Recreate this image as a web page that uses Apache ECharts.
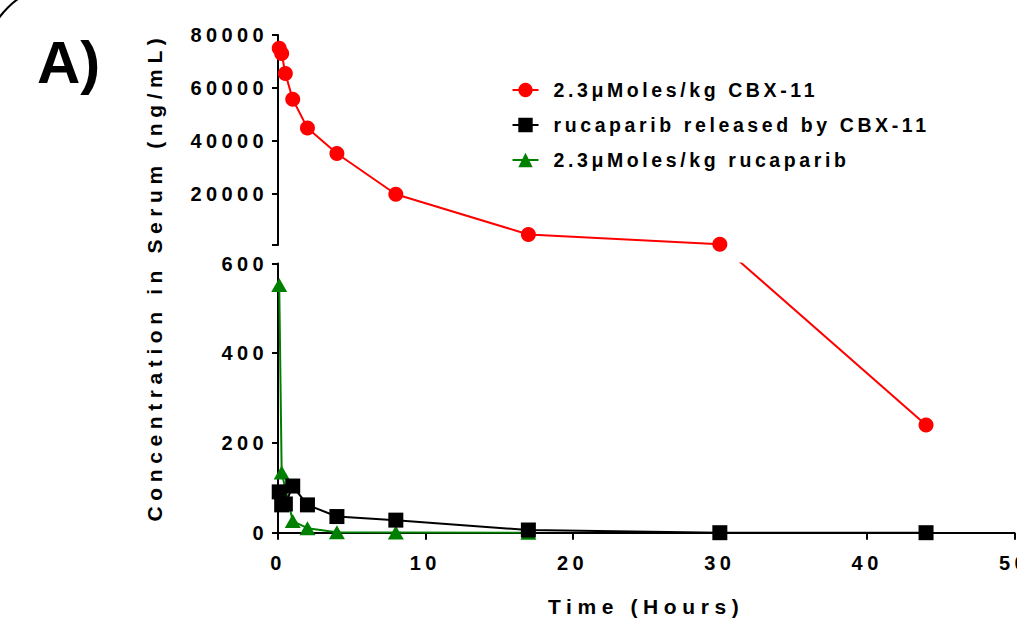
<!DOCTYPE html>
<html><head><meta charset="utf-8">
<script src="https://cdn.jsdelivr.net/npm/echarts@6/dist/echarts.min.js"></script>
<style>
html,body{margin:0;padding:0;background:#fff;}
#chart{width:1017px;height:625px;}
#chart text[style*="20px"]{letter-spacing:4.4px;}
#chart text[style*="19.5px"]{letter-spacing:3.6px;}
#chart text[style*="21px"]{letter-spacing:5.6px;}
</style></head><body><div id="chart"></div>
<script>
// ---- data ----
const panelLabel = 'A)';
const xTitle = 'Time (Hours)';
const yTitle = 'Concentration in Serum (ng/mL)';
const seriesNames = ['2.3μMoles/kg CBX-11', 'rucaparib released by CBX-11', '2.3μMoles/kg rucaparib'];
const cbxTimes = [0.083, 0.25, 0.5, 1, 2, 4, 8, 17, 30, 44];
const cbxValues = [75000, 73000, 65400, 55700, 44800, 35200, 19800, 4600, 900, 240];
const releasedTimes = [0.083, 0.25, 0.5, 1, 2, 4, 8, 17, 30, 44];
const releasedValues = [91, 62, 64, 104, 62, 36, 28, 6, 0, 0];
const rucTimes = [0.083, 0.25, 1, 2, 4, 8, 17];
const rucValues = [552, 134, 26, 10, 1, 0.5, 0];
const xTicks = [0, 10, 20, 30, 40, 50];
const upperTicks = [20000, 40000, 60000, 80000];
const lowerTicks = [0, 200, 400, 600];
const breakValue = 600; // lower segment top = upper segment bottom

// ---- chart ----
const FONT = 'Liberation Sans';
const chart = echarts.init(document.getElementById('chart'), null, {renderer: 'svg'});
const pairs = (t, v) => t.map((x, i) => [x, v[i]]);
const cbxAll = pairs(cbxTimes, cbxValues);
const cbxUpper = cbxAll.filter(p => p[1] > breakValue);
const cbxLower = cbxAll.filter(p => p[1] <= breakValue);

const axisLine = {show: true, onZero: false, lineStyle: {color: '#000', width: 2}};
const tickStyle = {show: true, inside: false, length: 6, lineStyle: {color: '#000', width: 2}};
const tickLabel = {color: '#000', fontFamily: FONT, fontWeight: 'bold', fontSize: 20, formatter: v => String(v)};
const red = '#ff0000', green = '#008000', black = '#000000';

const option = {
  animation: false,
  backgroundColor: '#fff',
  textStyle: {fontFamily: FONT},
  grid: [
    {left: 278, top: 35, width: 736.4, height: 210, outerBoundsMode: 'none', containLabel: false},
    {left: 278, top: 263.5, width: 736.4, height: 269.2, outerBoundsMode: 'none', containLabel: false}
  ],
  xAxis: [
    {gridIndex: 0, type: 'value', min: xTicks[0], max: xTicks[xTicks.length - 1], show: false},
    {gridIndex: 1, type: 'value', min: xTicks[0], max: xTicks[xTicks.length - 1],
     interval: xTicks[1] - xTicks[0],
     axisLine: axisLine, axisTick: Object.assign({}, tickStyle, {length: 7}),
     axisLabel: Object.assign({margin: 20}, tickLabel),
     splitLine: {show: false},
     name: xTitle, nameLocation: 'middle', nameGap: 63,
     nameTextStyle: {color: '#000', fontFamily: FONT, fontWeight: 'bold', fontSize: 21}}
  ],
  yAxis: [
    {gridIndex: 0, type: 'value', min: breakValue, max: upperTicks[upperTicks.length - 1],
     axisLine: axisLine,
     axisTick: Object.assign({}, tickStyle, {customValues: [breakValue].concat(upperTicks)}),
     axisLabel: Object.assign({margin: 10, customValues: upperTicks}, tickLabel),
     splitLine: {show: false}},
    {gridIndex: 1, type: 'value', min: lowerTicks[0], max: lowerTicks[lowerTicks.length - 1],
     interval: lowerTicks[1] - lowerTicks[0],
     axisLine: axisLine, axisTick: tickStyle,
     axisLabel: Object.assign({margin: 10}, tickLabel),
     splitLine: {show: false}}
  ],
  legend: {
    orient: 'vertical', left: 511.5, top: 80, padding: 0,
    itemWidth: 26, itemHeight: 18, itemGap: 15,
    data: seriesNames,
    textStyle: {color: '#000', fontFamily: FONT, fontWeight: 'bold', fontSize: 19.5, padding: [9, 0, 0, 10]}
  },
  graphic: [
    {type: 'arc', shape: {cx: 60, cy: 60, r: 74, startAngle: Math.PI, endAngle: 1.5 * Math.PI},
     style: {stroke: '#000', lineWidth: 2, fill: 'none'}, silent: true},
    {type: 'text', x: 37, y: 62, style: {text: panelLabel, fill: '#000', font: 'bold 60px "Liberation Sans"',
     textAlign: 'left', textVerticalAlign: 'middle'}},
    {type: 'text', x: 154, y: 277, rotation: Math.PI / 2,
     style: {text: yTitle, fill: '#000', font: 'bold 21px "Liberation Sans"', textAlign: 'center', textVerticalAlign: 'middle'}}
  ],
  series: [
    {id: 'cbxUp', name: seriesNames[0], type: 'line', xAxisIndex: 0, yAxisIndex: 0, data: cbxUpper,
     symbol: 'circle', symbolSize: 15, color: red, lineStyle: {color: red, width: 2}, itemStyle: {color: red}, clip: true},
    {id: 'cbxLow', name: seriesNames[0], type: 'line', xAxisIndex: 1, yAxisIndex: 1, data: cbxLower,
     symbol: 'circle', symbolSize: 15, color: red, lineStyle: {color: red, width: 2}, itemStyle: {color: red}, clip: true},
    {id: 'ruc', name: seriesNames[2], type: 'line', xAxisIndex: 1, yAxisIndex: 1, data: pairs(rucTimes, rucValues),
     symbol: 'triangle', symbolSize: [16, 14], color: green, lineStyle: {color: green, width: 2}, itemStyle: {color: green}, clip: true},
    {id: 'rel', name: seriesNames[1], type: 'line', xAxisIndex: 1, yAxisIndex: 1, data: pairs(releasedTimes, releasedValues),
     symbol: 'rect', symbolSize: 15, color: black, lineStyle: {color: black, width: 2}, itemStyle: {color: black}, clip: true}
  ]
};
chart.setOption(option);

// connect the CBX-11 line across the axis break in pixel space, via the library's own scales
if (cbxUpper.length && cbxLower.length) {
  const lastUp = cbxUpper[cbxUpper.length - 1];
  const firstLow = cbxLower[0];
  const pUp = chart.convertToPixel({gridIndex: 0}, lastUp);
  const pLow = chart.convertToPixel({gridIndex: 1}, firstLow);
  const upInLower = chart.convertFromPixel({gridIndex: 1}, pUp);
  const lowInUpper = chart.convertFromPixel({gridIndex: 0}, pLow);
  chart.setOption({series: [
    {id: 'cbxUp', data: cbxUpper.concat([{value: lowInUpper, symbol: 'none'}])},
    {id: 'cbxLow', data: [{value: upInLower, symbol: 'none'}].concat(cbxLower)}
  ]});
}
</script></body></html>
